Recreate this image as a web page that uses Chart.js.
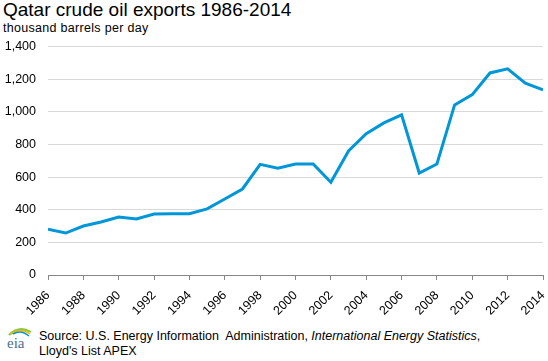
<!DOCTYPE html>
<html>
<head>
<meta charset="utf-8">
<script src="https://cdn.jsdelivr.net/npm/chart.js@4/dist/chart.umd.min.js"></script>
<style>
  body { margin: 0; background: #fff; font-family: "Liberation Sans", Arial, sans-serif; }
  #wrap { position: relative; width: 548px; height: 361px; overflow: hidden; }
  #title { position: absolute; left: 3px; top: -1px; font-size: 19px; color: #000; white-space: nowrap; }
  #subtitle { position: absolute; left: 3px; top: 21px; font-size: 12.5px; color: #000; white-space: nowrap; letter-spacing: 0.3px; }
  #box { position: absolute; left: 0; top: 27px; width: 548px; height: 293px; }
  #logo { position: absolute; left: 6px; top: 323px; }
  #source { position: absolute; left: 39px; top: 329px; font-size: 12.5px; line-height: 15px; color: #000; white-space: nowrap; }
</style>
</head>
<body>
<div id="wrap">
  <div id="title">Qatar crude oil exports 1986-2014</div>
  <div id="subtitle">thousand barrels per day</div>
  <div id="box"><canvas id="myChart"></canvas></div>
  <svg id="logo" width="28" height="28" viewBox="0 0 28 28">
    <path d="M3 12 Q13 2 25 9" stroke="#8dc63f" stroke-width="2" fill="none"/>
    <path d="M5 11 Q14 4 24 11" stroke="#f7b500" stroke-width="1.5" fill="none"/>
    <path d="M7 11 Q15 6 23 13" stroke="#0096d7" stroke-width="1.5" fill="none"/>
    <text x="1" y="25" font-family="Liberation Serif, serif" font-size="15" fill="#4a6f8f">eia</text>
  </svg>
  <div id="source">Source: U.S. Energy Information&nbsp; Administration, <i>International Energy Statistics</i>,<br>Lloyd's List APEX</div>
</div>
<script>
const years = [1986, 1987, 1988, 1989, 1990, 1991, 1992, 1993, 1994, 1995,
  1996, 1997, 1998, 1999, 2000, 2001, 2002, 2003, 2004, 2005,
  2006, 2007, 2008, 2009, 2010, 2011, 2012, 2013, 2014];
const exportsKbd = [280, 257, 300, 325, 355, 343, 374, 375, 375, 405,
  466, 527, 678, 654, 680, 680, 568, 760, 866, 932,
  981, 625, 680, 1042, 1105, 1238, 1263, 1175, 1134];
const yTicks = [0, 200, 400, 600, 800, 1000, 1200, 1400];

const points = years.map((yr, i) => ({ x: yr, y: exportsKbd[i] }));

const ctx = document.getElementById('myChart').getContext('2d');
new Chart(ctx, {
    type: 'line',
    data: {
        datasets: [{
            label: 'Qatar crude oil exports',
            data: points,
            borderColor: '#0096d7',
            borderWidth: 3,
            pointRadius: 0,
            tension: 0,
            fill: false
        }]
    },
    options: {
        responsive: true,
        maintainAspectRatio: false,
        animation: false,
        layout: { padding: { top: 1, right: 5, left: 0, bottom: 0 } },
        plugins: {
            legend: { display: false },
            tooltip: { enabled: false }
        },
        scales: {
            x: {
                type: 'linear',
                min: 1986,
                max: 2014,
                afterBuildTicks: (s) => { s.ticks = years.filter(y => y % 2 === 0).map(v => ({ value: v })); },
                ticks: {
                    callback: (v) => String(v),
                    maxRotation: 45,
                    minRotation: 45,
                    padding: 8,
                    color: '#000',
                    font: { family: 'Liberation Sans', size: 12.5 }
                },
                grid: { display: true, drawOnChartArea: false, drawTicks: true, tickLength: 5, color: '#888' },
                border: { color: '#888', width: 1 },
                afterFit: (s) => { s.height = 45; s.paddingRight = 0; s.paddingLeft = 0; }
            },
            y: {
                min: 0,
                max: 1400,
                afterBuildTicks: (s) => { s.ticks = yTicks.map(v => ({ value: v })); },
                ticks: {
                    padding: 12,
                    color: '#000',
                    font: { family: 'Liberation Sans', size: 12.5 }
                },
                grid: { color: '#d9d9d9', drawTicks: false },
                border: { display: false },
                afterFit: (s) => { s.width = 48; }
            }
        }
    }
});
</script>
</body>
</html>
